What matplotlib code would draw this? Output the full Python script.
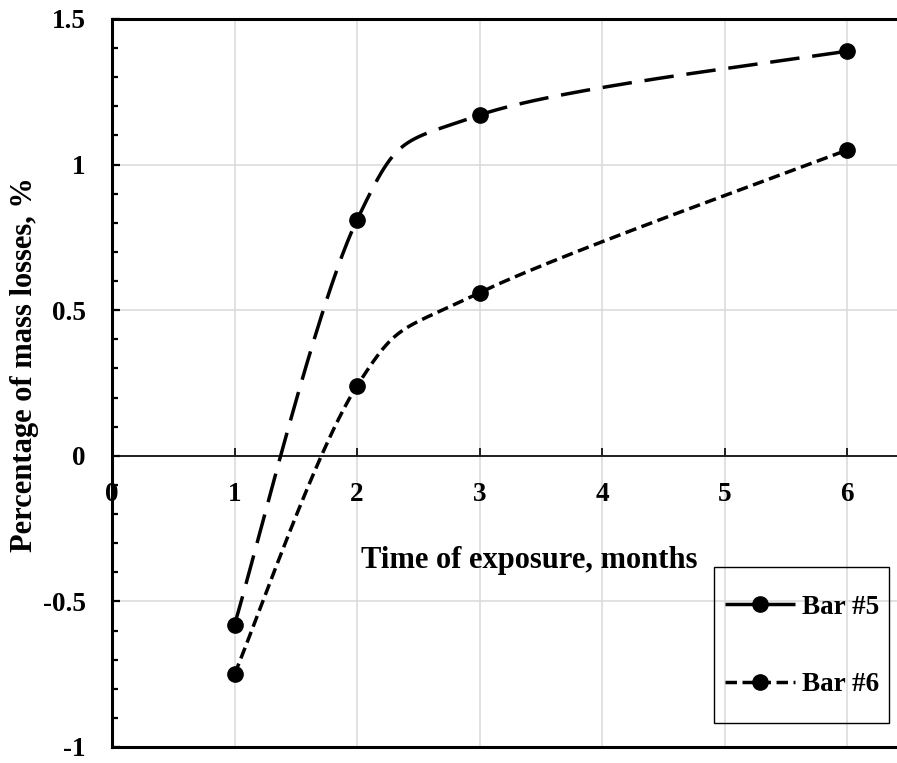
import numpy as np
import matplotlib
matplotlib.use("Agg")
import matplotlib.pyplot as plt
from matplotlib.lines import Line2D
from matplotlib.patches import Rectangle
from matplotlib.ticker import MultipleLocator

# ---- data ----
months = [1, 2, 3, 6]
bar5 = [-0.58, 0.81, 1.17, 1.39]
bar6 = [-0.75, 0.24, 0.56, 1.05]
series_labels = ["Bar #5", "Bar #6"]
x_ticks = [0, 1, 2, 3, 4, 5, 6]
x_ticklabels = ["0", "1", "2", "3", "4", "5", "6"]
y_ticks = [-1, -0.5, 0, 0.5, 1, 1.5]
y_ticklabels = ["-1", "-0.5", "0", "0.5", "1", "1.5"]
x_label = "Time of exposure, months"
y_label = "Percentage of mass losses, %"

plt.rcParams['font.family'] = ['Liberation Serif', 'DejaVu Serif']
plt.rcParams['font.weight'] = 'bold'

W, H = 897, 763
fig = plt.figure(figsize=(W / 100, H / 100), dpi=100)
ax = fig.add_axes([112 / W, 16 / H, (W - 112) / W, 728 / H])
ax.set_xlim(0, (W - 112) / 122.5)
ax.set_ylim(-1, 1.5)

tick_fs = 19.5
lab_fs = 22

# spines
ax.spines['right'].set_visible(False)
ax.spines['left'].set_linewidth(2.2)
ax.spines['top'].set_linewidth(2.2)
ax.spines['bottom'].set_position(('data', 0))
ax.spines['bottom'].set_linewidth(1.2)
ax.axhline(-1, color='k', lw=2.2, clip_on=False, zorder=5)

ax.set_xticks(x_ticks)
ax.set_xticklabels(x_ticklabels, fontsize=tick_fs, fontweight='bold')
ax.set_yticks(y_ticks)
ax.set_yticklabels(y_ticklabels, fontsize=tick_fs, fontweight='bold')
ax.yaxis.set_minor_locator(MultipleLocator(0.1))
ax.tick_params(axis='x', which='major', direction='in', length=6, width=1.2, pad=19)
ax.tick_params(axis='y', which='major', direction='in', length=6, width=1.6, pad=19)
ax.tick_params(axis='y', which='minor', direction='in', length=4.5, width=1.6)

ax.grid(True, which='major', color='#d9d9d9', lw=1.1)
ax.set_axisbelow(True)


def smooth(xs, ys, n=80):
    pts = ax.transData.transform(np.column_stack([xs, ys]))
    N = len(pts)
    out = []
    for i in range(N - 1):
        p0 = pts[max(i - 1, 0)]
        p1 = pts[i]
        p2 = pts[i + 1]
        p3 = pts[min(i + 2, N - 1)]
        c1 = p1 + (p2 - p0) / 6.0
        c2 = p2 - (p3 - p1) / 6.0
        t = np.linspace(0, 1, n)[:, None]
        seg = (1 - t) ** 3 * p1 + 3 * (1 - t) ** 2 * t * c1 + 3 * (1 - t) * t ** 2 * c2 + t ** 3 * p2
        out.append(seg if i == 0 else seg[1:])
    return ax.transData.inverted().transform(np.vstack(out))


lw = 2.5
ms = 11
dash5 = (8.5, 3.7)
dash6 = (3.3, 1.6)

c5 = smooth(months, bar5)
c6 = smooth(months, bar6)
ax.plot(c5[:, 0], c5[:, 1], color='k', lw=lw, dashes=dash5, zorder=3)
ax.plot(c6[:, 0], c6[:, 1], color='k', lw=lw, dashes=dash6, zorder=3)
ax.plot(months, bar5, 'o', color='k', ms=ms, zorder=4)
ax.plot(months, bar6, 'o', color='k', ms=ms, zorder=4)

fig.text(529 / W, 1 - 568 / H, x_label, ha='center', va='baseline',
         fontsize=lab_fs, fontweight='bold')
fig.text(25 / W, 1 - 365 / H, y_label, ha='center', va='center', rotation=90,
         fontsize=lab_fs, fontweight='bold')

handles = [Line2D([], [], color='k', lw=lw, dashes=dash5, marker='o', ms=ms),
           Line2D([], [], color='k', lw=lw, dashes=dash6, marker='o', ms=ms)]
fig.legend(handles, series_labels, loc='center',
           bbox_to_anchor=(802 / W, 1 - 646 / H), bbox_transform=fig.transFigure,
           frameon=False, borderpad=0, handlelength=2.58, handletextpad=0.26,
           labelspacing=1.93, prop={'size': tick_fs, 'weight': 'bold'})
fig.patches.append(Rectangle((714 / W, 1 - 723 / H), 175 / W, 156 / H,
                             transform=fig.transFigure, fill=False, ec='k', lw=1.0))

fig.savefig("out.png", dpi=100)
